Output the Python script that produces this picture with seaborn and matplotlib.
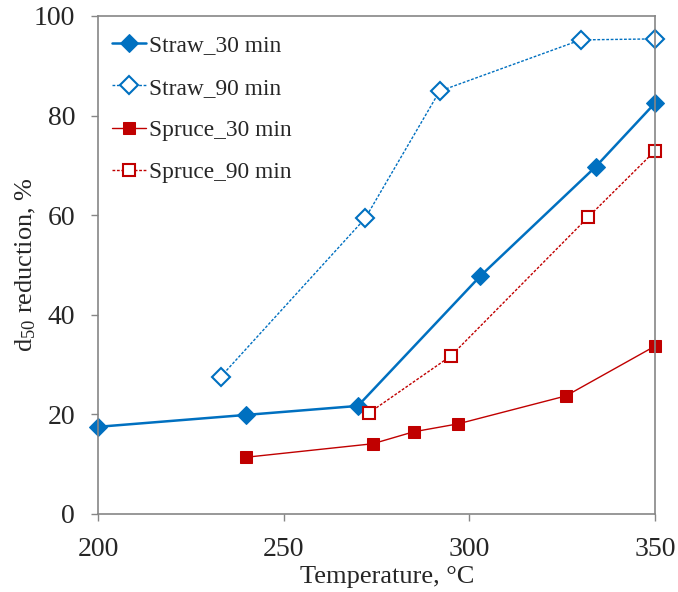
import matplotlib
matplotlib.use("Agg")
import matplotlib.pyplot as plt
import seaborn as sns
import pandas as pd

straw30_x = [200, 240, 270, 303, 334, 350]
straw30_y = [17.5, 19.9, 21.7, 47.8, 69.7, 82.5]
straw90_x = [233, 272, 292, 330, 350]
straw90_y = [27.5, 59.4, 84.9, 95.2, 95.4]
spruce30_x = [240, 274, 285, 297, 326, 350]
spruce30_y = [11.4, 14.1, 16.5, 18.1, 23.7, 33.7]
spruce90_x = [273, 295, 332, 350]
spruce90_y = [20.3, 31.7, 59.6, 72.9]

labels = ["Straw_30 min", "Straw_90 min", "Spruce_30 min", "Spruce_90 min"]
xticks = [200, 250, 300, 350]
yticks = [0, 20, 40, 60, 80, 100]

sns.set_theme(style="ticks")
plt.rcParams["font.family"] = ["Liberation Serif", "DejaVu Serif"]
plt.rcParams["mathtext.fontset"] = "custom"
plt.rcParams["mathtext.rm"] = "Liberation Serif"
plt.rcParams["mathtext.it"] = "Liberation Serif:italic"

BLUE = "#0070C0"
RED = "#C00000"

fig = plt.figure(figsize=(6.78, 5.92), dpi=100)
ax = fig.add_axes([0.1445, 0.1318, 0.8215, 0.8412])

series = [
    (straw30_x, straw30_y, labels[0], dict(color=BLUE, marker="D", markersize=9.5, linewidth=1.8,
                                           linestyle="-", markerfacecolor=BLUE, markeredgecolor=BLUE)),
    (straw90_x, straw90_y, labels[1], dict(color=BLUE, marker="D", markersize=9.5, linewidth=1.0,
                                           linestyle=(0, (2, 1.2)), markerfacecolor="white",
                                           markeredgecolor=BLUE, markeredgewidth=1.5)),
    (spruce30_x, spruce30_y, labels[2], dict(color=RED, marker="s", markersize=9, linewidth=1.0,
                                             linestyle="-", markerfacecolor=RED, markeredgecolor=RED)),
    (spruce90_x, spruce90_y, labels[3], dict(color=RED, marker="s", markersize=9, linewidth=1.0,
                                             linestyle=(0, (2, 1.2)), markerfacecolor="white",
                                             markeredgecolor=RED, markeredgewidth=1.5)),
]

for xs, ys, lab, kw in series:
    df = pd.DataFrame({"x": xs, "y": ys})
    sns.lineplot(data=df, x="x", y="y", ax=ax, label=lab, **kw)

ax.set_xlim(200, 350)
ax.set_ylim(0, 100)
ax.set_xticks(xticks)
ax.set_yticks(yticks)
ax.tick_params(axis="both", direction="out", length=5, width=1, color="#868686",
               labelsize=20, pad=11.5)
for sp in ax.spines.values():
    sp.set_color("#868686")
    sp.set_linewidth(1.2)
    sp.set_visible(True)
for m in ax.lines:
    m.set_clip_on(False)

ax.set_xlabel("Temperature, \u00b0C", fontsize=19, labelpad=3)
ax.xaxis.label.set_x(0.52)
ax.set_ylabel("d$_{50}$ reduction, %", fontsize=19, labelpad=-3)

leg = ax.legend(loc="upper left", frameon=False, fontsize=16.8, labelspacing=0.9,
                handlelength=1.45, handletextpad=0.15, borderaxespad=0.2,
                bbox_to_anchor=(0.0, 0.99))

fig.savefig("out.png", dpi=100)
